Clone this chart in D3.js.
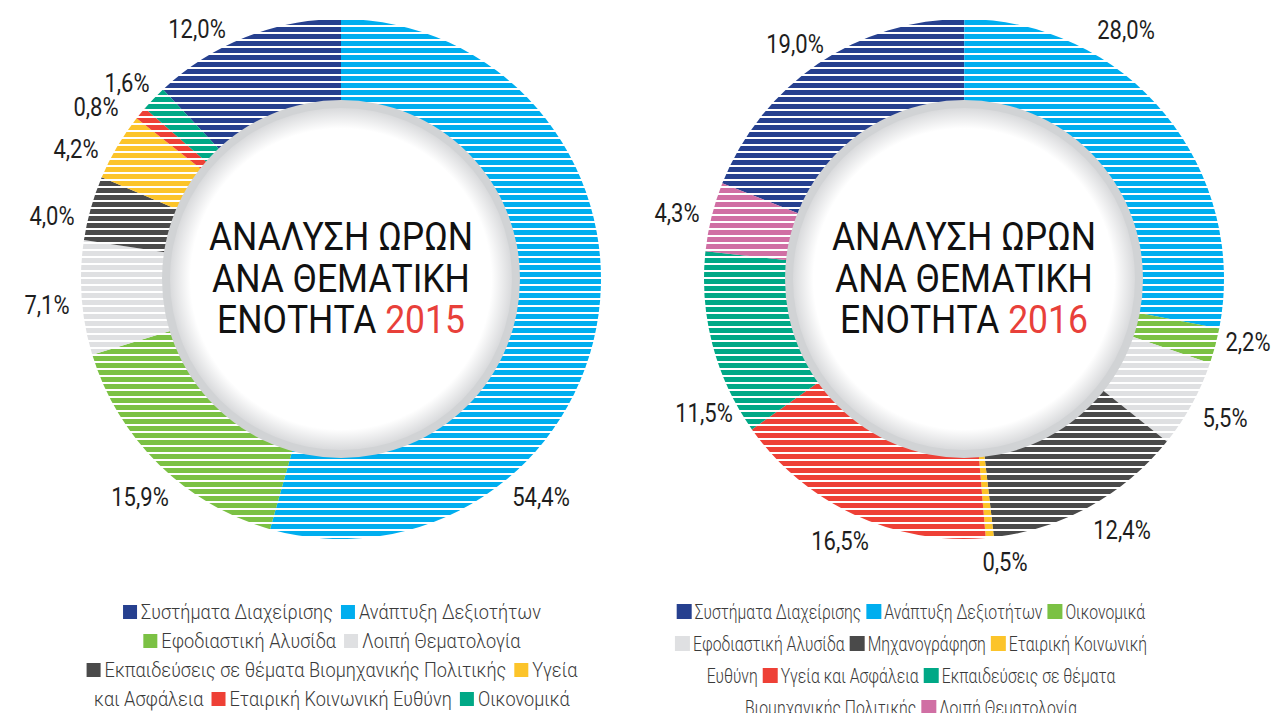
<!DOCTYPE html>
<html>
<head>
<meta charset="utf-8">
<script src="https://cdn.jsdelivr.net/npm/d3@7"></script>
<style>
  body { margin: 0; background: #fff; }
</style>
</head>
<body>
<svg id="chart" width="1274" height="713"></svg>
<script>
// 2015
const topics2015 = ['Συστήματα Διαχείρισης', 'Ανάπτυξη Δεξιοτήτων', 'Εφοδιαστική Αλυσίδα', 'Λοιπή Θεματολογία',
  'Εκπαιδεύσεις σε θέματα Βιομηχανικής Πολιτικής', 'Υγεία και Ασφάλεια', 'Εταιρική Κοινωνική Ευθύνη', 'Οικονομικά']
const shares2015 = [12.0, 54.4, 15.9, 7.1, 4.0, 4.2, 0.8, 1.6]
const colors2015 = ['#26408f', '#00aeef', '#7bc144', '#dfe0e2', '#4a4a4a', '#fcc42a', '#ee4036', '#00a886']

// 2016
const topics2016 = ['Συστήματα Διαχείρισης', 'Ανάπτυξη Δεξιοτήτων', 'Οικονομικά', 'Εφοδιαστική Αλυσίδα', 'Μηχανογράφηση',
  'Εταιρική Κοινωνική Ευθύνη', 'Υγεία και Ασφάλεια', 'Εκπαιδεύσεις σε θέματα Βιομηχανικής Πολιτικής', 'Λοιπή Θεματολογία']
const shares2016 = [19.0, 28.0, 2.2, 5.5, 12.4, 0.5, 16.5, 11.5, 4.3]
const colors2016 = ['#26408f', '#00aeef', '#7bc144', '#dfe0e2', '#4a4a4a', '#fcc42a', '#ee4036', '#00a886', '#d06fa4']

// where the percent labels sit, relative to each donut centre (hand placed like the original)
const labelSpots2015 = [[-144, -250], [200, 218], [-201, 218], [-294, 26], [-289, -63], [-265, -130], [-245, -172], [-214, -196]]
const labelSpots2016 = [[-169, -235], [162, -249], [284, 63], [261, 139], [158, 251], [41, 283], [-124, 262], [-260, 134], [-287, -66]]

const titleLines = ['ΑΝΑΛΥΣΗ ΩΡΩΝ', 'ΑΝΑ ΘΕΜΑΤΙΚΗ', 'ΕΝΟΤΗΤΑ']

const svg = d3.select('#chart')
const pct = d3.formatLocale({ decimal: ',', thousands: '.', grouping: [3], currency: ['', '€'] }).format('.1f')

const R_OUT = 260
const R_IN = 165
const RING = 179

const defs = svg.append('defs')
const grad = defs.append('radialGradient').attr('id', 'innerGlow')
grad.append('stop').attr('offset', '0%').attr('stop-color', '#ffffff')
grad.append('stop').attr('offset', '88%').attr('stop-color', '#ffffff')
grad.append('stop').attr('offset', '100%').attr('stop-color', '#d9dadc')

function drawDonut(id, cx, cy, shares, colors, spots, year) {
  const g = svg.append('g').attr('transform', `translate(${cx},${cy})`)

  const start = -shares[0] / 100 * 2 * Math.PI
  const pie = d3.pie().sort(null).value(d => d)
    .startAngle(start).endAngle(start + 2 * Math.PI)
  const arc = d3.arc().innerRadius(R_IN).outerRadius(R_OUT)

  g.selectAll('path.slice')
    .data(pie(shares))
    .join('path')
    .attr('class', 'slice')
    .attr('d', arc)
    .attr('fill', (d, i) => colors[i])

  // white horizontal stripes over the ring
  defs.append('clipPath').attr('id', 'clip-' + id)
    .append('circle').attr('r', R_OUT + 1)
  const rows = d3.range(Math.floor((-R_OUT - 10) / 7), Math.ceil((R_OUT + 10) / 7))
  const phase = (25 - cy) - 7 * Math.floor((25 - cy) / 7)
  g.append('g')
    .attr('clip-path', `url(#clip-${id})`)
    .selectAll('rect')
    .data(rows)
    .join('rect')
    .attr('x', -R_OUT - 2)
    .attr('y', k => k * 7 + phase)
    .attr('width', R_OUT * 2 + 4)
    .attr('height', 2)
    .attr('fill', '#ffffff')

  // centre disc
  g.append('circle').attr('r', RING).attr('fill', '#d1d3d5')
  g.append('circle').attr('r', RING - 8).attr('fill', 'url(#innerGlow)')

  const title = g.append('g').attr('transform', 'scale(0.91,1)')
  title.selectAll('text')
    .data(titleLines)
    .join('text')
    .attr('text-anchor', 'middle')
    .attr('y', (d, i) => [-29, 13, 54][i])
    .attr('font-family', 'Roboto, sans-serif')
    .attr('font-size', 39)
    .attr('fill', '#111111')
    .each(function (d, i) {
      const t = d3.select(this)
      t.append('tspan').text(d)
      if (i === titleLines.length - 1) {
        t.append('tspan').attr('fill', '#e8403a').text(' ' + year)
      }
    })

  g.selectAll('text.pct')
    .data(shares)
    .join('text')
    .attr('class', 'pct')
    .attr('transform', (d, i) => `translate(${spots[i][0]},${spots[i][1]}) scale(0.88,1)`)
    .attr('text-anchor', 'middle')
    .attr('dy', '0.36em')
    .attr('font-family', 'Roboto, sans-serif')
    .attr('font-size', 25)
    .attr('fill', '#1e1e1e')
    .text(d => pct(d) + '%')
}

function drawLegend(names, colors, opts) {
  const { cx, y0, maxW, fs, sx, sw, itemGap, swGap, lineH } = opts
  const g = svg.append('g')
  const probe = g.append('text')
    .attr('font-family', 'Roboto, sans-serif')
    .attr('font-weight', 300)
    .attr('font-size', fs)
  const w = s => { probe.text(s); return probe.node().getComputedTextLength() * sx }
  const space = w('a a') - w('aa')

  const tokens = []
  names.forEach((name, i) => {
    name.split(' ').forEach((word, j) => {
      tokens.push({ word, swatch: j === 0 ? colors[i] : null })
    })
  })
  tokens.forEach(t => { t.w = (t.swatch ? sw + swGap : 0) + w(t.word) })
  probe.remove()

  const lines = []
  let cur = []
  let curW = 0
  tokens.forEach(t => {
    let gap = cur.length ? (t.swatch ? itemGap : space) : 0
    if (cur.length && curW + gap + t.w > maxW) {
      lines.push({ items: cur, w: curW })
      cur = []
      curW = 0
      gap = 0
    }
    t.x = curW + gap
    curW += gap + t.w
    cur.push(t)
  })
  if (cur.length) lines.push({ items: cur, w: curW })

  lines.forEach((line, li) => {
    const y = y0 + li * lineH
    const x0 = cx - line.w / 2
    line.items.forEach(t => {
      let x = x0 + t.x
      if (t.swatch) {
        g.append('rect')
          .attr('x', x).attr('y', y - sw)
          .attr('width', sw).attr('height', sw)
          .attr('fill', t.swatch)
        x += sw + swGap
      }
      g.append('text')
        .attr('transform', `translate(${x},${y}) scale(${sx},1)`)
        .attr('font-family', 'Roboto, sans-serif')
        .attr('font-weight', 300)
        .attr('font-size', fs)
        .attr('fill', '#3a3a3a')
        .text(t.word)
    })
  })
}

drawDonut('y2015', 341, 279, shares2015, colors2015, labelSpots2015, '2015')
drawDonut('y2016', 964, 279, shares2016, colors2016, labelSpots2016, '2016')
drawLegend(topics2015, colors2015, { cx: 332, y0: 619, maxW: 502, fs: 19.5, sx: 0.93, sw: 14, itemGap: 8, swGap: 4, lineH: 29 })
drawLegend(topics2016, colors2016, { cx: 911, y0: 619, maxW: 500, fs: 21, sx: 0.75, sw: 15, itemGap: 5, swGap: 3, lineH: 32 })
</script>
</body>
</html>
